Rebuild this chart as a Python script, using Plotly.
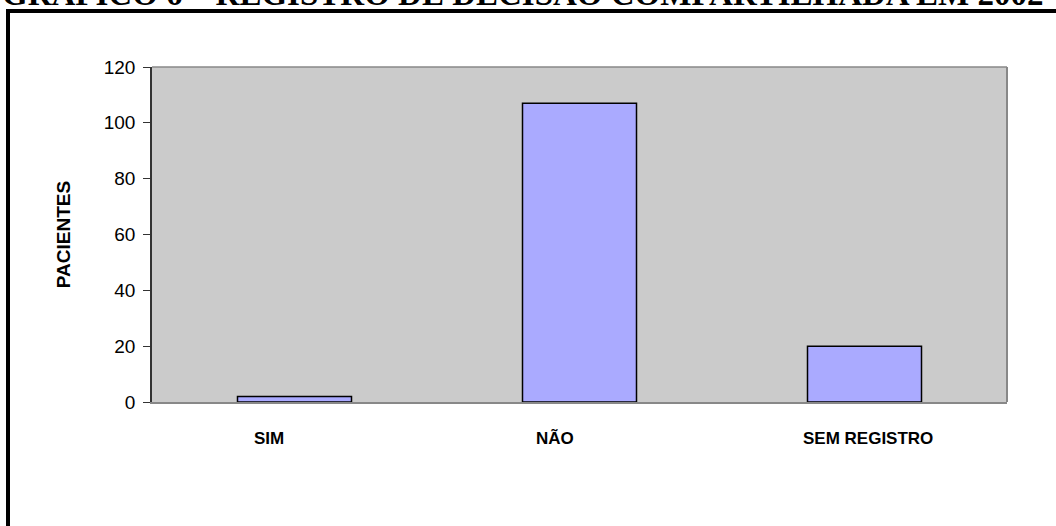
import plotly.graph_objects as go

# Chart data
categories = ["SIM", "NÃO", "SEM REGISTRO"]
patients = [2, 107, 20]
y_ticks = [0, 20, 40, 60, 80, 100, 120]

# horizontal nudge of each category label, in pixels
label_shift = [-26, -25, 3]

W, H = 1056, 526
L, R, T, B = 152, 49, 67, 124
pw, ph = W - L - R, H - T - B


def px_x(x):
    return (x - L) / pw


def px_y(y):
    return (H - B - y) / ph


fig = go.Figure(
    go.Bar(
        x=categories,
        y=patients,
        marker=dict(color="#AAAAFF", line=dict(color="#000000", width=1.5)),
        width=0.4,
        hoverinfo="x+y",
    )
)

label_font = dict(size=17, family="Liberation Sans, Arial", weight="bold", color="#000000")
annotations = [
    dict(
        text=cat, x=cat, xref="x", y=px_y(438), yref="paper",
        xanchor="center", yanchor="middle", xshift=shift,
        showarrow=False, font=label_font,
    )
    for cat, shift in zip(categories, label_shift)
]
annotations.append(
    dict(
        text="GRÁFICO 6 – REGISTRO DE DECISÃO COMPARTILHADA EM 2002",
        xref="paper", yref="paper",
        x=px_x(0), y=px_y(14),
        xanchor="left", yanchor="bottom",
        showarrow=False,
        font=dict(size=33, family="Liberation Serif, Times New Roman", weight="bold", color="#000000"),
    )
)

fig.update_layout(
    width=W,
    height=H,
    margin=dict(l=L, r=R, t=T, b=B, pad=0),
    paper_bgcolor="#FFFFFF",
    plot_bgcolor="#CBCBCB",
    showlegend=False,
    font=dict(family="Liberation Sans, Arial, sans-serif", color="#000000"),
    xaxis=dict(
        showgrid=False,
        showline=True,
        linecolor="#888888",
        linewidth=1.5,
        mirror=False,
        ticks="",
        showticklabels=False,
        fixedrange=True,
    ),
    yaxis=dict(
        range=[0, 120],
        tickvals=y_ticks,
        showgrid=False,
        zeroline=False,
        showline=True,
        linecolor="#333333",
        linewidth=1.5,
        ticks="outside",
        ticklen=7,
        tickcolor="#333333",
        tickfont=dict(size=19, family="Liberation Sans, Arial"),
        ticklabelstandoff=4,
        title=dict(
            text="PACIENTES",
            font=dict(size=19, family="Liberation Sans Narrow, Liberation Sans, Arial", weight="bold"),
            standoff=28,
        ),
        fixedrange=True,
    ),
    shapes=[
        # plot-area border on the top and right
        dict(type="line", xref="paper", yref="paper", x0=0, x1=1, y0=1, y1=1,
             line=dict(color="#888888", width=1.5)),
        dict(type="line", xref="paper", yref="paper", x0=1, x1=1, y0=0, y1=1,
             line=dict(color="#888888", width=2)),
        # outer black frame
        dict(type="rect", xref="paper", yref="paper",
             x0=px_x(8), x1=px_x(W + 20), y0=px_y(H + 20), y1=px_y(11),
             line=dict(color="#000000", width=4), fillcolor="rgba(0,0,0,0)"),
    ],
    annotations=annotations,
)

fig.write_html("out.html")
